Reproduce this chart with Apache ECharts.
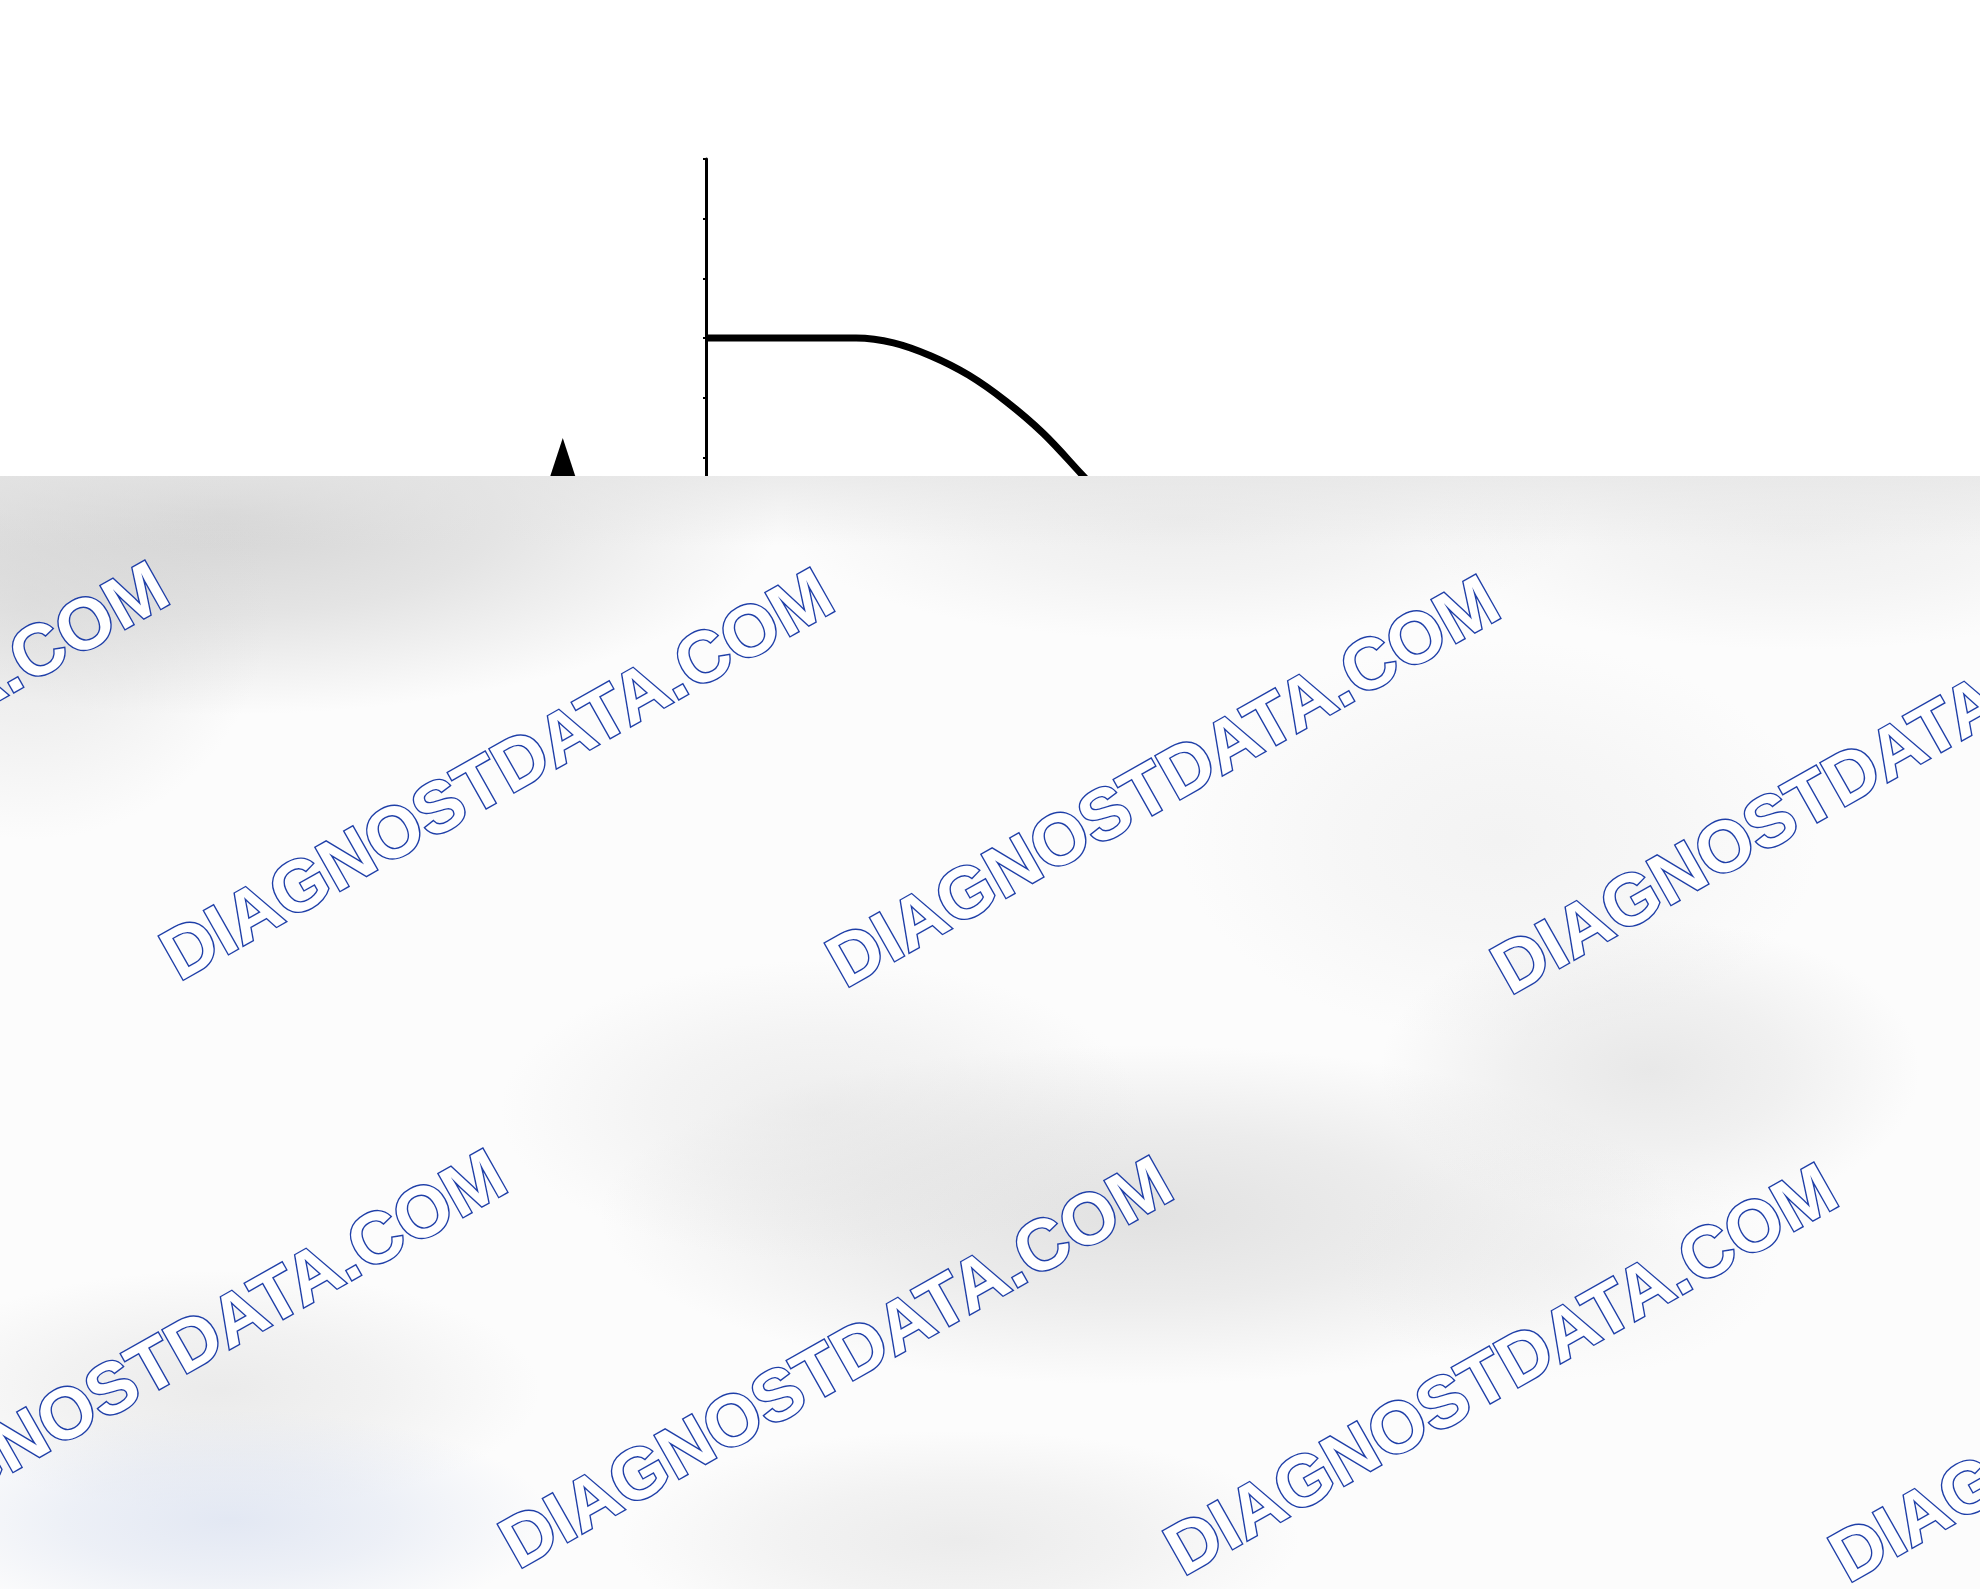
<!DOCTYPE html>
<html>
<head>
<meta charset="utf-8">
<script src="https://cdn.jsdelivr.net/npm/echarts@6/dist/echarts.min.js"></script>
<style>
html,body{margin:0;padding:0;background:#ffffff;}
#chart{width:1980px;height:1589px;}
</style>
</head>
<body>
<div id="chart"></div>
<script>
// ---- data ----
const curveX = [0, 20, 25, 30, 35, 40, 45, 50, 55];
const curveY = [70, 70, 69.2, 67.0, 63.8, 59.4, 54.0, 47.3, 40.5];
const markerX = [-19.1];
const markerY = [47.9];
const yTicks = [0, 10, 20, 30, 40, 50, 60, 70, 80, 90, 100];
const watermarkText = 'DIAGNOSTDATA.COM';

const curveData = curveX.map((x, i) => [x, curveY[i]]);
const markerData = markerX.map((x, i) => [x, markerY[i]]);

// ---- overlay texture (decorative, not data) ----
const OY = 476;
const cv = document.createElement('canvas');
cv.width = 1980; cv.height = 1589 - OY;
const ctx = cv.getContext('2d');
ctx.fillStyle = '#fcfcfc';
ctx.fillRect(0, 0, cv.width, cv.height);
function blob(cx, cy, rx, ry, rgb, a) {
  ctx.save();
  ctx.translate(cx, cy - OY);
  ctx.scale(rx, ry);
  const g = ctx.createRadialGradient(0, 0, 0, 0, 0, 1);
  g.addColorStop(0, 'rgba(' + rgb + ',' + a + ')');
  g.addColorStop(0.5, 'rgba(' + rgb + ',' + (a * 0.6) + ')');
  g.addColorStop(1, 'rgba(' + rgb + ',0)');
  ctx.fillStyle = g;
  ctx.beginPath();
  ctx.arc(0, 0, 1, 0, Math.PI * 2);
  ctx.fill();
  ctx.restore();
}
blob(220, 515, 560, 200, '205,205,205', 0.85);
blob(30, 600, 240, 240, '212,212,212', 0.5);
blob(1180, 520, 400, 120, '222,222,222', 0.5);
blob(1800, 530, 380, 120, '226,226,226', 0.5);
blob(1500, 840, 320, 200, '226,226,226', 0.35);
blob(1140, 1215, 540, 170, '214,214,214', 0.7);
blob(820, 1110, 320, 150, '220,220,220', 0.45);
blob(1650, 1070, 270, 150, '216,216,216', 0.55);
blob(220, 1390, 320, 120, '214,214,214', 0.45);
blob(230, 1520, 320, 110, '218,225,240', 0.75);
blob(960, 1540, 340, 110, '222,222,222', 0.55);
blob(1560, 1260, 220, 120, '226,226,226', 0.3);
const tg = ctx.createLinearGradient(0, 0, 0, 70);
tg.addColorStop(0, 'rgba(228,228,228,0.7)');
tg.addColorStop(1, 'rgba(228,228,228,0)');
ctx.fillStyle = tg;
ctx.fillRect(0, 0, cv.width, 70);

// ---- watermarks ----
const wmCenters = [
  [-166, 771], [499, 778], [1165, 785], [1830, 792],
  [172, 1359], [838, 1366], [1503, 1373], [2168, 1380]
];
const wmFont = 'bold 72px "Liberation Sans", Arial, sans-serif';
const watermarkGraphics = wmCenters.map(c => ({
  type: 'text',
  x: c[0], y: c[1],
  rotation: 29.5 * Math.PI / 180,
  z: 101,
  silent: true,
  style: {
    text: watermarkText,
    font: wmFont,
    fill: '#ffffff',
    stroke: '#1f3fa8',
    lineWidth: 2.8,
    align: 'center',
    verticalAlign: 'middle'
  }
}));

const chart = echarts.init(document.getElementById('chart'), null, {renderer: 'canvas'});
chart.setOption({
  animation: false,
  backgroundColor: '#ffffff',
  grid: {left: 406, top: 159, width: 750, height: 597, containLabel: false},
  xAxis: {
    type: 'value', min: -40, max: 60, show: false,
    axisLine: {onZero: false}
  },
  yAxis: {
    type: 'value', min: yTicks[0], max: yTicks[yTicks.length - 1], interval: 10,
    axisLine: {show: true, onZero: true, lineStyle: {color: '#000', width: 3}},
    axisTick: {show: true, length: 3, lineStyle: {color: '#000', width: 2}},
    axisLabel: {show: false},
    splitLine: {show: false}
  },
  series: [
    {
      type: 'line',
      data: curveData,
      smooth: 0.35,
      showSymbol: false,
      lineStyle: {color: '#000', width: 7},
      z: 3
    },
    {
      type: 'scatter',
      data: markerData,
      symbol: 'triangle',
      symbolSize: [42, 64],
      itemStyle: {color: '#000', opacity: 1},
      z: 3
    }
  ],
  graphic: [
    {
      type: 'image', x: 0, y: OY, z: 100, silent: true,
      style: {image: cv, width: cv.width, height: cv.height}
    }
  ].concat(watermarkGraphics)
});
</script>
</body>
</html>
